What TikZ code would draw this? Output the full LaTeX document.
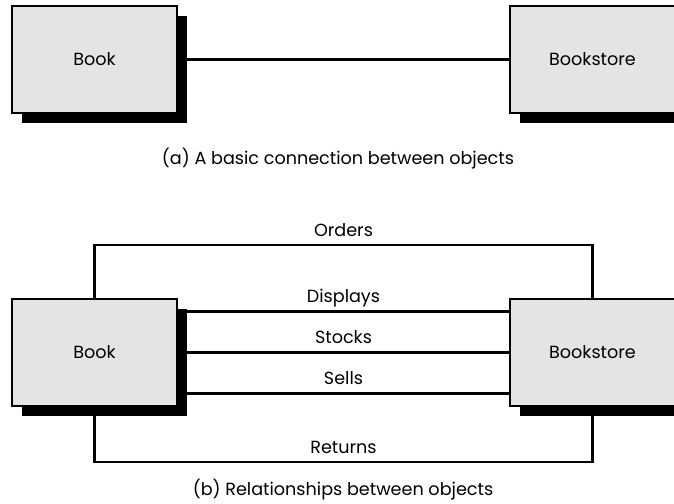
\documentclass[tikz,border=0pt]{standalone}
\usepackage{fontspec}
\setmainfont{Poppins}
\usetikzlibrary{shadows}
\definecolor{boxgray}{HTML}{E4E4E4}
\begin{document}
\begin{tikzpicture}[x=0.75pt,y=-0.75pt,
  txt/.style={font=\fontsize{13.2}{16}\selectfont},
  obj/.style={draw, line width=1.5pt, fill=boxgray, minimum width=123.75pt,
    minimum height=80.25pt, inner sep=0pt, txt,
    drop shadow={shadow xshift=7.5pt, shadow yshift=-7.5pt, fill=black, opacity=1}},
  link/.style={line width=1.6pt},
  lbl/.style={txt, inner sep=0pt, yshift=11.25pt}]
\useasboundingbox (0,0) rectangle (674,503);
% (a)
\node[obj] (book1) at (94.5,59.5) {Book};
\node[obj] (store1) at (592.5,59.5) {Bookstore};
\draw[link] (book1.east) -- (store1.west);
\node[txt] (capa) at (338,159) {(a) A basic connection between objects};
% (b)
\node[obj] (book2) at (94.5,352.5) {Book};
\node[obj] (store2) at (592.5,352.5) {Bookstore};
\coordinate (ordc) at (343.5,245);
\coordinate (retc) at (343.5,462);
\draw[link] (book2.north) |- (ordc) node[lbl] (orders) {Orders} -| (store2.north);
\draw[link] (book2.south) |- (retc) node[lbl] (returns) {Returns} -| (store2.south);
\draw[link] ([yshift=30.75pt]book2.east) -- node[lbl, yshift=-1.5pt] (displays) {Displays} ([yshift=30.75pt]store2.west);
\draw[link] (book2.east) -- node[lbl] (stocks) {Stocks} (store2.west);
\draw[link] ([yshift=-30.75pt]book2.east) -- node[lbl] (sells) {Sells} ([yshift=-30.75pt]store2.west);
\node[txt] (capb) at (343,490) {(b) Relationships between objects};
\end{tikzpicture}
\end{document}
